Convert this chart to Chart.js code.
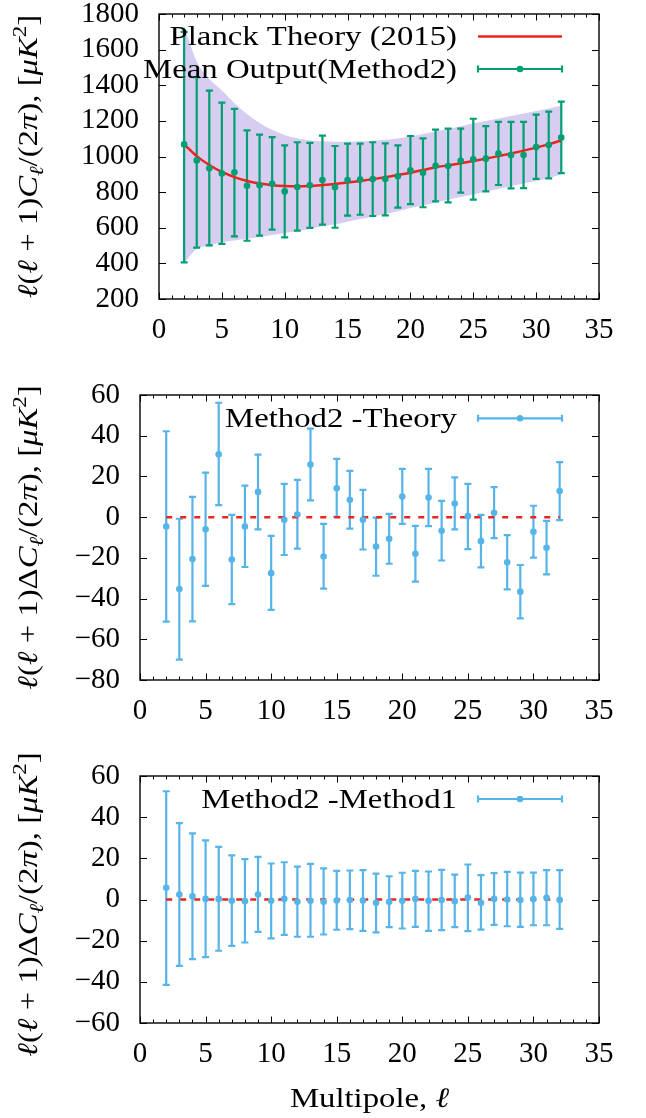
<!DOCTYPE html>
<html>
<head>
<meta charset="utf-8">
<script src="https://cdn.jsdelivr.net/npm/chart.js@4.4.1/dist/chart.umd.min.js"></script>
<style>
  html, body { margin: 0; padding: 0; background: #fff; }
  body { width: 646px; height: 1118px; position: relative; overflow: hidden; }
  canvas { position: absolute; left: 0; }
</style>
</head>
<body>
<canvas id="c1" width="646" height="370" style="top:-25px"></canvas>
<canvas id="c2" width="646" height="400" style="top:350px"></canvas>
<canvas id="c3" width="646" height="398" style="top:720px"></canvas>
<script>
// multipoles
const ells = [2,3,4,5,6,7,8,9,10,11,12,13,14,15,16,17,18,19,20,21,22,23,24,25,26,27,28,29,30,31,32];

// top panel: theory, cosmic variance band, mean output with error bars
const theory = [1068,1002,952,913,884,862,848,839,834,833,835,840,846,854,863,873,884,896,909,924,940,950,962,975,988,1002,1017,1033,1050,1068,1090];
const bandHi = [1730,1534,1435,1371,1300,1239,1188,1150,1121,1102,1090,1085,1083,1083,1085,1089,1094,1101,1113,1126,1140,1154,1170,1186,1200,1214,1228,1242,1256,1270,1285];
const bandLo = [402,481,499,518,529,538,548,559,571,582,593,608,619,634,649,662,677,692,711,725,742,757,772,787,803,818,833,848,863,878,900];
const mean = [1068,978,934,905,911,836,838,847,804,829,838,868,827,868,870,874,874,889,922,909,948,947,976,984,988,1017,1008,1008,1053,1064,1106];
const meanHi = [1700,1446,1370,1302,1267,1147,1123,1109,1063,1080,1076,1117,1059,1072,1072,1080,1074,1063,1115,1102,1151,1156,1156,1212,1171,1194,1194,1194,1235,1252,1308];
const meanLo = [406,488,501,509,552,527,556,589,546,584,599,617,600,668,673,666,670,713,733,715,748,743,797,758,804,840,821,823,874,877,907];

// middle panel: Method2 - Theory
const diff = [-4.6,-35.3,-20.6,-6.0,30.9,-20.8,-4.6,12.4,-27.5,-1.3,1.3,25.8,-19.3,14.2,8.5,-1.3,-14.4,-10.6,10.1,-18.0,9.6,-6.7,6.7,0.5,-11.8,2.1,-22.2,-36.6,-7.2,-15.0,12.8];
const diffHi = [42.2,-0.8,10.0,21.9,56.2,1.1,15.5,30.7,-9.2,16.3,18.3,43.5,-3.3,28.6,22.7,13.4,-0.2,1.6,23.7,-4.3,23.7,8.0,19.5,16.3,1.1,14.7,-8.8,-23.5,5.6,-1.8,27.0];
const diffLo = [-51.3,-70.0,-51.2,-33.8,5.9,-42.7,-24.5,-6.0,-45.6,-18.6,-15.5,8.2,-35.1,0.2,-5.6,-15.9,-28.8,-22.9,-3.3,-31.7,-4.4,-21.3,-6.0,-15.7,-24.7,-10.3,-35.5,-49.7,-19.9,-28.1,-1.5];

// bottom panel: Method2 - Method1
const m21 = [5.7,2.4,1.6,0.3,0.3,-0.6,-0.8,2.4,-0.6,0.3,-1.1,-0.6,-1.1,-0.5,-0.3,-0.5,-1.6,-1.1,-0.6,0.3,-0.6,-0.3,-0.8,1.0,-1.6,0.3,0,-0.3,0.2,0.8,-0.2];
const m21Hi = [52.6,37.1,32.1,28.7,25.6,21.4,19.6,20.7,17.5,18.1,16.0,17.3,15.1,13.9,14.1,14.3,12.6,11.3,13.0,13.9,13.6,14.4,12.1,17.0,11.8,12.8,13.4,13.1,13.1,14.3,14.3];
const m21Lo = [-41.5,-32.2,-29.0,-28.0,-24.9,-22.5,-20.9,-15.7,-18.9,-17.2,-18.1,-18.1,-17.0,-14.7,-14.4,-15.2,-16.0,-13.4,-14.1,-13.3,-15.2,-14.9,-13.4,-15.4,-14.6,-12.3,-13.0,-13.3,-12.5,-12.5,-14.3];

const FONT = '"Liberation Serif", "DejaVu Serif", serif';
const RED = '#e8261c', GREEN = '#009e73', BLUE = '#56b4e9', BAND = '#d7cdf1';
const STRETCH = 1.17; // Computer Modern runs wider than Liberation Serif

const pts = (ys) => ells.map((l, i) => ({ x: l, y: ys[i] }));
const errPts = (ys, lo, hi) => ells.map((l, i) => ({ x: l, y: ys[i], lo: lo[i], hi: hi[i] }));

// rich text: [text, style] with style '', 'i', 'isub', 'sup'
// align: 'center' (x is the middle) or 'right' (x is the right end)
function drawRich(ctx, parts, size, x, y, align) {
  let w = 0;
  const items = parts.map(([t, s]) => {
    const small = s === 'isub' || s === 'sup';
    const sz = small ? size * 0.7 : size;
    const font = (s[0] === 'i' ? 'italic ' : '') + sz + 'px ' + FONT;
    ctx.font = font;
    const wd = ctx.measureText(t).width;
    const dy = s === 'isub' ? size * 0.2 : s === 'sup' ? -size * 0.4 : 0;
    w += wd;
    return { t, font, wd, dy };
  });
  ctx.save();
  ctx.translate(x, y);
  ctx.scale(STRETCH, 1);
  let cx = align === 'right' ? -w : -w / 2;
  ctx.fillStyle = '#000';
  ctx.textAlign = 'left';
  ctx.textBaseline = 'alphabetic';
  items.forEach(it => {
    ctx.font = it.font;
    ctx.fillText(it.t, cx, it.dy);
    cx += it.wd;
  });
  ctx.restore();
}

const yTitleC = [['ℓ','i'],['(',''],['ℓ','i'],[' + 1)',''],['C','i'],['ℓ','isub'],['/(2',''],['π','i'],['), [',''],['μK','i'],['2','sup'],[']','']];
const yTitleD = [['ℓ','i'],['(',''],['ℓ','i'],[' + 1)',''],['Δ',''],['C','i'],['ℓ','isub'],['/(2',''],['π','i'],['), [',''],['μK','i'],['2','sup'],[']','']];

// error bars are drawn just before the flagged line dataset, so the red line sits on them
const errorBars = {
  id: 'errorBars',
  beforeDatasetDraw(chart, args) {
    const ds = chart.data.datasets[args.index];
    if (!ds.barsHere) return;
    const ctx = chart.ctx, y = chart.scales.y;
    chart.data.datasets.forEach((d, di) => {
      if (!d.errColor) return;
      const meta = chart.getDatasetMeta(di);
      ctx.save();
      ctx.strokeStyle = d.errColor;
      ctx.lineWidth = 2.2;
      d.data.forEach((p, i) => {
        const px = meta.data[i].x;
        const y1 = y.getPixelForValue(p.hi), y2 = y.getPixelForValue(p.lo);
        ctx.beginPath();
        ctx.moveTo(px, y1); ctx.lineTo(px, y2);
        ctx.moveTo(px - 3.5, y1); ctx.lineTo(px + 3.5, y1);
        ctx.moveTo(px - 3.5, y2); ctx.lineTo(px + 3.5, y2);
        ctx.stroke();
      });
      ctx.restore();
    });
  }
};

// gnuplot style frame: inward ticks on all sides, mirrored
const frame = {
  id: 'frame',
  afterDatasetsDraw(chart) {
    const { ctx, chartArea: a } = chart;
    const xs = chart.scales.x, ys = chart.scales.y;
    ctx.save();
    ctx.strokeStyle = '#000';
    ctx.lineWidth = 1;
    ctx.beginPath();
    for (let v = xs.min; v <= xs.max; v++) {
      const px = Math.round(xs.getPixelForValue(v)) + 0.5;
      const len = v % 5 === 0 ? 6.5 : 3.5;
      ctx.moveTo(px, a.bottom); ctx.lineTo(px, a.bottom - len);
      ctx.moveTo(px, a.top); ctx.lineTo(px, a.top + len);
    }
    ys.ticks.forEach(t => {
      const py = Math.round(ys.getPixelForValue(t.value)) + 0.5;
      ctx.moveTo(a.left, py); ctx.lineTo(a.left + 7, py);
      ctx.moveTo(a.right, py); ctx.lineTo(a.right - 7, py);
    });
    ctx.stroke();
    ctx.lineWidth = 1.4;
    ctx.strokeRect(a.left, a.top, a.right - a.left, a.bottom - a.top);
    ctx.restore();
  }
};

// legend: right aligned text with the sample to its right
const keyPlugin = {
  id: 'keyPlugin',
  afterDraw(chart, args, opts) {
    const { ctx, chartArea: a } = chart;
    chart.data.datasets.filter(d => d.inKey).forEach((d, k) => {
      const yy = a.top + opts.top + k * 32.6;
      drawRich(ctx, [[d.label, '']], 28, a.right - 142, yy + 9, 'right');
      ctx.save();
      const x1 = a.right - 121, x2 = a.right - 37;
      const col = d.errColor || d.borderColor;
      ctx.strokeStyle = col;
      ctx.lineWidth = d.errColor ? 2.2 : 2.5;
      ctx.beginPath();
      ctx.moveTo(x1, yy); ctx.lineTo(x2, yy);
      if (d.errColor) {
        ctx.moveTo(x1, yy - 3.5); ctx.lineTo(x1, yy + 3.5);
        ctx.moveTo(x2, yy - 3.5); ctx.lineTo(x2, yy + 3.5);
      }
      ctx.stroke();
      if (d.errColor) {
        ctx.fillStyle = col;
        ctx.beginPath();
        ctx.arc((x1 + x2) / 2, yy, 3.3, 0, Math.PI * 2);
        ctx.fill();
      }
      ctx.restore();
    });
  }
};

const titles = {
  id: 'titles',
  afterDraw(chart, args, opts) {
    const { ctx, chartArea: a } = chart;
    ctx.save();
    ctx.translate(37, (a.top + a.bottom) / 2 + (opts.yShift || 0));
    ctx.rotate(-Math.PI / 2);
    drawRich(ctx, opts.y, 28, 0, 0);
    ctx.restore();
    if (opts.x) drawRich(ctx, opts.x, 28, (a.left + a.right) / 2, opts.xAt);
  }
};

function makeChart(id, area, datasets, yMin, yMax, yStep, keyTop, xTitle) {
  const cv = document.getElementById(id);
  const H = cv.height;
  return new Chart(cv, {
    type: 'scatter',
    data: { datasets },
    plugins: [errorBars, frame, titles, keyPlugin],
    options: {
      responsive: false,
      animation: false,
      devicePixelRatio: 1,
      layout: { padding: { left: 0, top: area.top, right: 646 - area.right, bottom: 0 } },
      scales: {
        x: {
          type: 'linear', min: 0, max: 35,
          ticks: { stepSize: 5, color: '#000', font: { family: FONT, size: 29 }, padding: 14, maxRotation: 0, autoSkip: false },
          grid: { display: false, drawTicks: false },
          border: { display: false },
          afterFit: s => { s.height = H - area.bottom; }
        },
        y: {
          min: yMin, max: yMax,
          ticks: {
            stepSize: yStep, color: '#000', font: { family: FONT, size: 29, lineHeight: 1 }, padding: 20, autoSkip: false,
            callback: v => String(v).replace('-', '\u2212')
          },
          grid: { display: false, drawTicks: false },
          border: { display: false },
          afterFit: s => { s.width = area.left; }
        }
      },
      plugins: {
        legend: { display: false },
        tooltip: { enabled: false },
        keyPlugin: { top: keyTop },
        titles: { y: area.yTitle, yShift: area.yShift, x: xTitle, xAt: area.xAt }
      }
    }
  });
}

const clear = 'rgba(0,0,0,0)';

makeChart('c1', { left: 159, right: 599, top: 39, bottom: 324, yTitle: yTitleC }, [
  { label: 'band hi', data: pts(bandHi), showLine: true, borderColor: clear, borderWidth: 0, pointRadius: 0,
    backgroundColor: BAND, fill: '+1', cubicInterpolationMode: 'monotone', order: 3 },
  { label: 'band lo', data: pts(bandLo), showLine: true, borderColor: clear, borderWidth: 0, pointRadius: 0,
    fill: false, cubicInterpolationMode: 'monotone', order: 4 },
  { label: 'Planck Theory (2015)', data: pts(theory), showLine: true, borderColor: RED, borderWidth: 2.5,
    pointRadius: 0, fill: false, cubicInterpolationMode: 'monotone', order: 1, barsHere: true, inKey: true },
  { label: 'Mean Output(Method2)', data: errPts(mean, meanLo, meanHi), pointRadius: 3.3, pointBorderWidth: 0,
    pointBackgroundColor: GREEN, errColor: GREEN, order: 0, inKey: true }
], 200, 1800, 200, 22.4);

const zeroLine = () => ({ label: 'zero', data: [{ x: ells[0], y: 0 }, { x: ells[ells.length - 1], y: 0 }],
  showLine: true, borderColor: RED, borderWidth: 2.5, borderDash: [6, 8], pointRadius: 0, fill: false,
  order: 1, barsHere: true });

makeChart('c2', { left: 140, right: 599, top: 45, bottom: 330, yTitle: yTitleD }, [
  zeroLine(),
  { label: 'Method2 -Theory', data: errPts(diff, diffLo, diffHi), pointRadius: 3.3, pointBorderWidth: 0,
    pointBackgroundColor: BLUE, errColor: BLUE, order: 0, inKey: true }
], -80, 60, 20, 23.3);

makeChart('c3', { left: 140, right: 599, top: 56, bottom: 303, yTitle: yTitleD, yShift: 5, xAt: 387 }, [
  zeroLine(),
  { label: 'Method2 -Method1', data: errPts(m21, m21Lo, m21Hi), pointRadius: 3.3, pointBorderWidth: 0,
    pointBackgroundColor: BLUE, errColor: BLUE, order: 0, inKey: true }
], -60, 60, 20, 23, [['Multipole, ', ''], ['ℓ', 'i']]);
</script>
</body>
</html>
